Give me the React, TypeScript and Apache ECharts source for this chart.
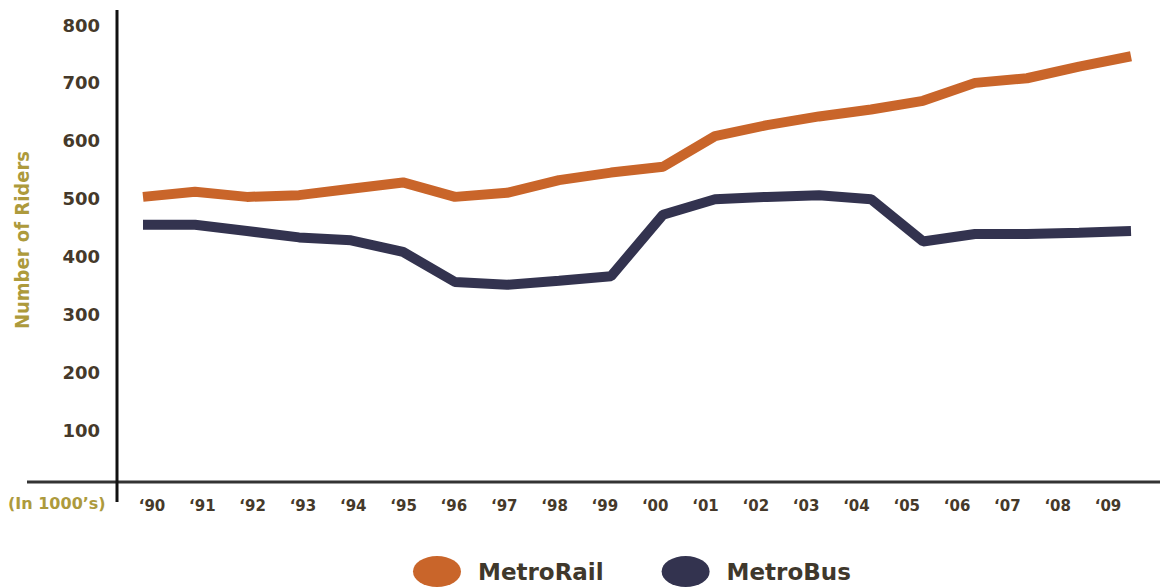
import React, { useEffect, useRef } from "react";
import * as echarts from "echarts";

const years = ["‘90", "‘91", "‘92", "‘93", "‘94", "‘95", "‘96", "‘97", "‘98", "‘99", "‘00", "‘01", "‘02", "‘03", "‘04", "‘05", "‘06", "‘07", "‘08", "‘09"];
const metroRail = [503, 512, 503, 506, 517, 528, 503, 510, 532, 545, 555, 608, 627, 642, 654, 669, 700, 708, 728, 746];
const metroBus = [455, 455, 444, 433, 428, 408, 356, 351, 358, 366, 472, 499, 503, 506, 499, 426, 439, 439, 441, 444];
const seriesNames = ["MetroRail", "MetroBus"];
const yTicks = { min: 0, max: 800, interval: 100 };

const RAIL = "#c9652a";
const BUS = "#33334f";
const LABEL = "#45392a";
const GOLD = "#ad9a3c";
const FONT = "'DejaVu Sans', sans-serif";
const ELLIPSE = "path://M0,15.5 A24,15.5 0 1,0 48,15.5 A24,15.5 0 1,0 0,15.5 Z";

export default function App() {
  const ref = useRef<HTMLDivElement>(null);
  useEffect(() => {
    if (!ref.current) return;
    const chart = echarts.init(ref.current, null, { renderer: "svg" });
    chart.setOption({
      animation: false,
      backgroundColor: "#ffffff",
      grid: [
        { left: 143, right: 29, top: 25, bottom: 100 },
        { left: 152, right: 52, top: 25, bottom: 100 },
      ],
      xAxis: [
        { gridIndex: 0, type: "category", boundaryGap: false, data: years, show: false },
        {
          gridIndex: 1,
          type: "category",
          boundaryGap: false,
          data: years,
          axisLine: { show: false },
          axisTick: { show: false },
          splitLine: { show: false },
          axisLabel: { interval: 0, margin: 10, fontSize: 15, fontWeight: "bold", color: LABEL, fontFamily: FONT },
        },
      ],
      yAxis: [
        {
          gridIndex: 0,
          type: "value",
          min: yTicks.min,
          max: yTicks.max,
          interval: yTicks.interval,
          axisLine: { show: false },
          axisTick: { show: false },
          splitLine: { show: false },
          axisLabel: {
            margin: 43,
            fontSize: 18,
            fontWeight: "bold",
            color: LABEL,
            fontFamily: FONT,
            formatter: (v: number) => (v === 0 ? "" : String(v)),
          },
        },
        { gridIndex: 1, type: "value", min: yTicks.min, max: yTicks.max, show: false },
      ],
      legend: {
        data: seriesNames,
        left: 408,
        top: 551,
        icon: ELLIPSE,
        itemWidth: 48,
        itemHeight: 31,
        itemGap: 58,
        textStyle: { fontSize: 23, fontWeight: "bold", color: "#3f382c", fontFamily: FONT, padding: [0, 0, 0, 12] },
      },
      graphic: [
        { type: "line", shape: { x1: 27, y1: 482, x2: 1160, y2: 482 }, style: { stroke: "#333333", lineWidth: 3 }, z: 10 },
        { type: "line", shape: { x1: 117, y1: 10, x2: 117, y2: 502 }, style: { stroke: "#111111", lineWidth: 3 }, z: 10 },
        {
          type: "text",
          x: 8,
          y: 503,
          style: {
            text: "(In 1000’s)",
            fill: GOLD,
            font: `bold 16px ${FONT}`,
            align: "left",
            verticalAlign: "middle",
            textAlign: "left",
            textVerticalAlign: "middle",
          },
        },
        {
          type: "text",
          x: 22,
          y: 240,
          rotation: Math.PI / 2,
          style: {
            text: "Number of Riders",
            fill: GOLD,
            font: `bold 20px 'Liberation Sans Narrow', 'DejaVu Sans Condensed', sans-serif`,
            align: "center",
            verticalAlign: "middle",
            textAlign: "center",
            textVerticalAlign: "middle",
          },
        },
      ],
      series: [
        {
          name: seriesNames[0],
          type: "line",
          xAxisIndex: 0,
          yAxisIndex: 0,
          data: metroRail,
          symbol: "none",
          itemStyle: { color: RAIL },
          lineStyle: { width: 10, color: RAIL },
        },
        {
          name: seriesNames[1],
          type: "line",
          xAxisIndex: 0,
          yAxisIndex: 0,
          data: metroBus,
          symbol: "none",
          itemStyle: { color: BUS },
          lineStyle: { width: 10, color: BUS },
        },
      ],
    });
    return () => chart.dispose();
  }, []);
  return <div ref={ref} style={{ position: "fixed", left: 0, top: 0, width: 1160, height: 588 }} />;
}
